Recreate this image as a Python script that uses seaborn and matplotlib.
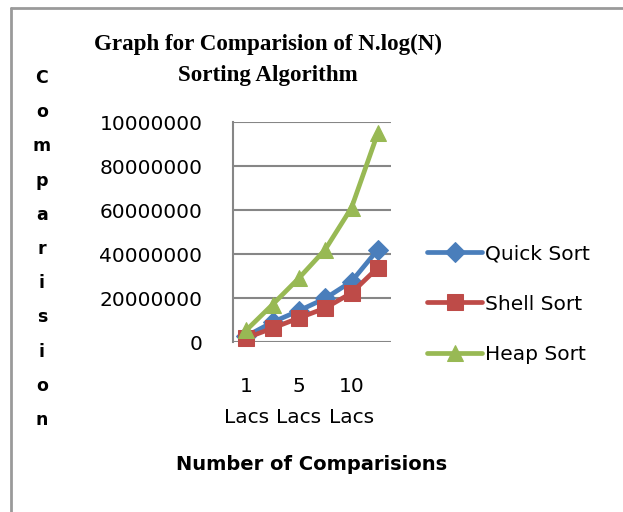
import numpy as np
import pandas as pd
import matplotlib
matplotlib.use("Agg")
import matplotlib.pyplot as plt
from matplotlib.lines import Line2D
import seaborn as sns

# Input sizes (in lakhs) and comparison counts per algorithm
categories = ["1 Lacs", "3 Lacs", "5 Lacs", "7 Lacs", "10 Lacs", "15 Lacs"]
quick_sort = [2.6e6, 9.0e6, 14.2e6, 19.8e6, 27.5e6, 42.0e6]
shell_sort = [1.8e6, 6.3e6, 10.9e6, 15.4e6, 22.3e6, 33.8e6]
heap_sort = [5.3e6, 17.0e6, 29.0e6, 42.0e6, 61.0e6, 95.0e6]

y_ticks = [0, 20000000, 40000000, 60000000, 80000000, 100000000]
y_tick_labels = ["0", "20000000", "40000000", "60000000", "80000000", "10000000"]
x_label_every = 2

series = {
    "Quick Sort": (quick_sort, "#4A7EBB", "D", 10),
    "Shell Sort": (shell_sort, "#BE4B48", "s", 11),
    "Heap Sort": (heap_sort, "#98B954", "^", 12),
}

sns.set_theme(style="white")
plt.rcParams["font.family"] = ["DejaVu Sans"]
for key in ["text.color", "axes.labelcolor", "xtick.labelcolor", "ytick.labelcolor"]:
    plt.rcParams[key] = "black"

W, H = 623, 512
fig = plt.figure(figsize=(W / 100, H / 100), dpi=100)
fig.patch.set_facecolor("white")

# plot area in pixel coordinates
left, right, top, bottom = 233, 391, 122, 342
ax = fig.add_axes([left / W, 1 - bottom / H, (right - left) / W, (bottom - top) / H])
ax.set_facecolor("white")

pos = np.arange(len(categories))
grid_col = "#868686"
for name, (vals, col, mk, ms) in series.items():
    df = pd.DataFrame({"pos": pos, "value": vals})
    sns.lineplot(data=df, x="pos", y="value", ax=ax, color=col, linewidth=3.4,
                 marker=mk, markersize=ms, markeredgecolor=col,
                 markerfacecolor=col, label=name, sort=False, clip_on=False)

ax.set_xlim(-0.5, len(categories) - 0.5)
ax.set_ylim(0, 100000000)
ax.set_yticks(y_ticks)
ax.set_yticklabels(y_tick_labels, fontsize=14.5, color="black")
xt_labels = [c.replace(" ", "\n") if i % x_label_every == 0 else ""
             for i, c in enumerate(categories)]
ax.set_xticks(pos)
ax.set_xticklabels(xt_labels, fontsize=14.5, linespacing=1.85, color="black")
ax.tick_params(axis="x", length=0, pad=25)
ax.tick_params(axis="y", length=6, width=1.5, color=grid_col, pad=16, direction="out")
ax.set_xlabel("")
ax.set_ylabel("")

for s in ["top", "right", "bottom"]:
    ax.spines[s].set_visible(False)
ax.spines["left"].set_color(grid_col)
ax.spines["left"].set_linewidth(1.5)
ax.yaxis.grid(True, color=grid_col, linewidth=1.5)
ax.set_axisbelow(True)

# legend on the right of the plot area
leg = ax.legend(loc="center left", bbox_to_anchor=(427 / W, 1 - 304 / H),
                bbox_transform=fig.transFigure, frameon=False, fontsize=14.5,
                handlelength=2.75, handletextpad=0.15, labelspacing=1.55,
                borderpad=0, borderaxespad=0)
for t in leg.get_texts():
    t.set_color("black")

# title
title_font = dict(ha="center", va="center", fontsize=16.6, fontweight="bold",
                  color="black", family=["Liberation Serif", "DejaVu Serif"])
fig.text(268 / W, 1 - 44 / H, "Graph for Comparision of N.log(N)", **title_font)
fig.text(268 / W, 1 - 75 / H, "Sorting Algorithm", **title_font)

# vertical stacked y-axis title
word = "Comparision"
y0, step = 78, 34.2
for i, ch in enumerate(word):
    fig.text(42 / W, 1 - (y0 + i * step) / H, ch, ha="center", va="center",
             fontsize=12.5, fontweight="bold", color="black")

fig.text(312 / W, 1 - 465 / H, "Number of Comparisions", ha="center",
         va="center", fontsize=14, fontweight="bold", color="black")

# chart frame (left and top edges)
frame_col = "#9A9A9A"
fig.add_artist(Line2D([10.5 / W, 10.5 / W], [0, 1 - 8 / H], transform=fig.transFigure,
                      color=frame_col, linewidth=2))
fig.add_artist(Line2D([10.5 / W, 1], [1 - 8 / H, 1 - 8 / H], transform=fig.transFigure,
                      color=frame_col, linewidth=2))

fig.savefig("out.png", dpi=100, facecolor="white")
